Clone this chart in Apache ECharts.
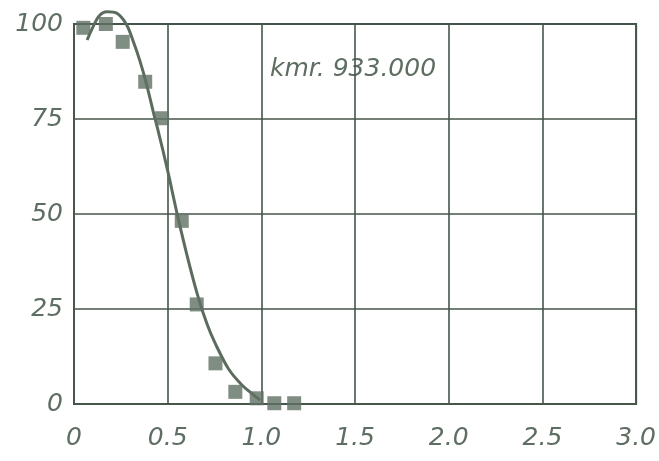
<!DOCTYPE html>
<html>
<head>
<meta charset="utf-8">
<script src="https://cdn.jsdelivr.net/npm/echarts@6/dist/echarts.min.js"></script>
<style>html,body{margin:0;padding:0;background:#fff}#c{width:659px;height:461px}</style>
</head>
<body>
<div id="c"></div>
<script>
const xTicks = [0, 0.5, 1.0, 1.5, 2.0, 2.5, 3.0];
const yTicks = [0, 25, 50, 75, 100];
const pointX = [0.05, 0.17, 0.26, 0.38, 0.47, 0.575, 0.655, 0.755, 0.861, 0.975, 1.069, 1.175];
const pointY = [99, 100, 95.3, 84.8, 75.2, 48.2, 26.2, 10.7, 3.2, 1.5, 0.2, 0.2];
const curveX = [0.07, 0.097, 0.132, 0.176, 0.229, 0.282, 0.317, 0.353, 0.388, 0.423, 0.45, 0.499, 0.552, 0.614, 0.667, 0.712, 0.755, 0.825, 0.896, 0.958, 0.993];
const curveY = [95.8, 98.8, 102, 103.2, 102.8, 99.7, 95.3, 90.1, 84, 76.9, 71.7, 61.6, 49.7, 37, 27.4, 20.8, 15.8, 9.2, 5, 2.4, 1];
const annotation = 'kmr. 933.000';

const ink = '#5f6e62';
const gridInk = '#46564a';
const font = 'DejaVu Sans';

const chart = echarts.init(document.getElementById('c'), null, {renderer: 'canvas'});
chart.setOption({
  backgroundColor: '#ffffff',
  animation: false,
  grid: {left: 74, top: 24, right: 18, bottom: 57, show: true, borderColor: gridInk, borderWidth: 2},
  xAxis: {
    type: 'value', min: 0, max: 3, interval: 0.5,
    axisLine: {show: true, lineStyle: {color: gridInk, width: 2}},
    axisTick: {show: false},
    splitLine: {show: true, lineStyle: {color: gridInk, width: 1.6}},
    axisLabel: {
      color: ink, fontFamily: font, fontStyle: 'italic', fontSize: 25, margin: 22,
      formatter: v => { const t = xTicks.find(a => Math.abs(a - v) < 1e-9); return t === 0 ? '0' : t.toFixed(1); }
    }
  },
  yAxis: {
    type: 'value', min: 0, max: 100, interval: 25,
    axisLine: {show: true, lineStyle: {color: gridInk, width: 2}},
    axisTick: {show: false},
    splitLine: {show: true, lineStyle: {color: gridInk, width: 1.6}},
    axisLabel: {
      color: ink, fontFamily: font, fontStyle: 'italic', fontSize: 25, margin: 11,
      formatter: v => String(yTicks.find(a => Math.abs(a - v) < 1e-9))
    }
  },
  series: [
    {
      type: 'line', smooth: 0.3, showSymbol: false, silent: true, clip: false,
      data: curveX.map((x, i) => [x, curveY[i]]),
      lineStyle: {color: '#5b6c5f', width: 3},
      z: 3
    },
    {
      type: 'scatter', symbol: 'rect', symbolSize: 14, clip: false,
      data: pointX.map((x, i) => [x, pointY[i]]),
      itemStyle: {color: '#607064'},
      z: 4
    }
  ],
  graphic: [{
    type: 'text', left: 270, top: 57,
    style: {text: annotation, fill: ink, font: 'italic 25px "DejaVu Sans"'}
  }]
});
</script>
</body>
</html>
